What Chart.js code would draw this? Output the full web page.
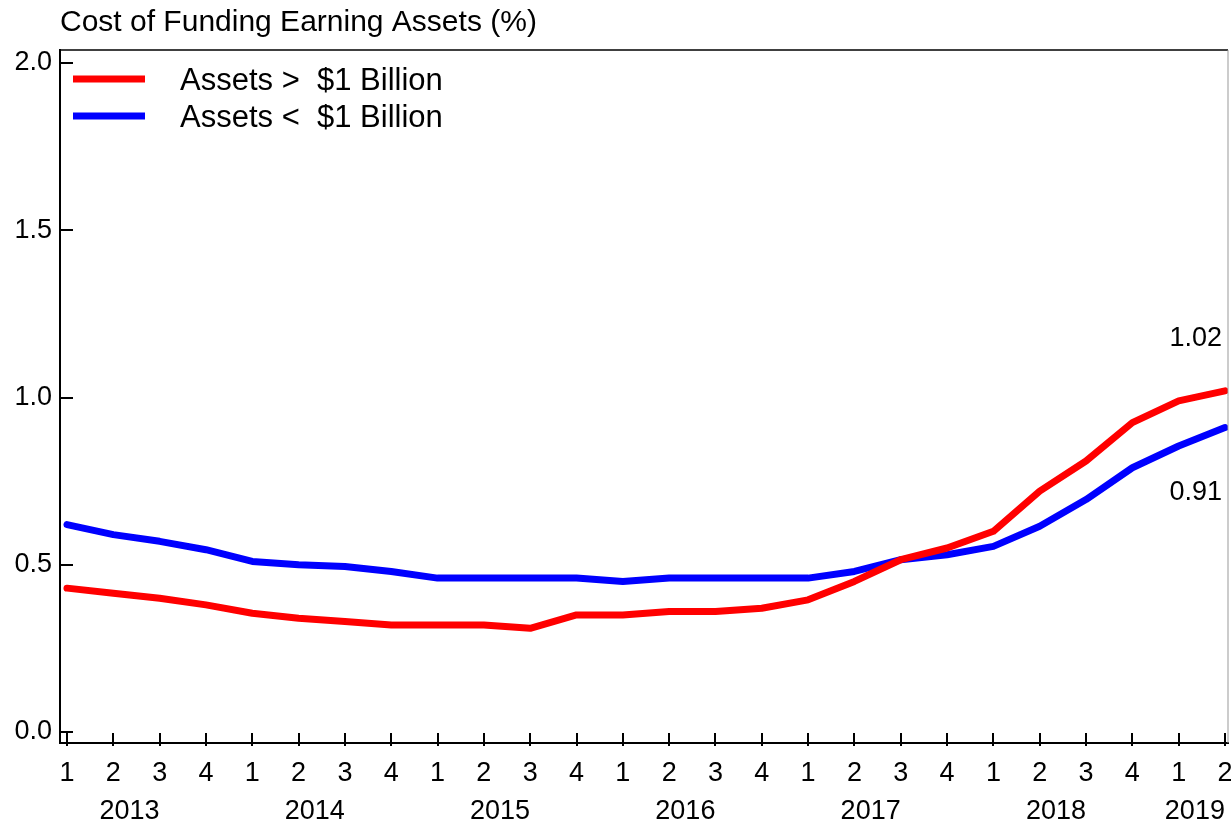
<!DOCTYPE html>
<html>
<head>
<meta charset="utf-8">
<title>Cost of Funding Earning Assets</title>
<script src="https://cdn.jsdelivr.net/npm/chart.js@4.4.1/dist/chart.umd.min.js"></script>
<style>
  html, body { margin: 0; padding: 0; background: #fff; }
  #wrap { width: 1231px; height: 828px; position: relative; }
</style>
</head>
<body>
<div id="wrap"><canvas id="chart"></canvas></div>
<script>
// valores (trimestres 2013 Q1 .. 2019 Q2)
const quarterLabels = ['1','2','3','4','1','2','3','4','1','2','3','4','1','2','3','4',
                       '1','2','3','4','1','2','3','4','1','2'];
const yearLabels = ['2013','2014','2015','2016','2017','2018','2019'];
const yearCenters = [1.35, 5.35, 9.35, 13.35, 17.35, 21.35, 24.35];
const yTicks = [0, 0.5, 1.0, 1.5, 2.0];

const bigBanks = [0.43, 0.415, 0.40, 0.38, 0.355, 0.34, 0.33, 0.32, 0.32, 0.32, 0.31, 0.35, 0.35,
                  0.36, 0.36, 0.37, 0.395, 0.45, 0.515, 0.55, 0.60, 0.72, 0.81, 0.925, 0.99, 1.02];
const smallBanks = [0.62, 0.59, 0.57, 0.545, 0.51, 0.50, 0.495, 0.48, 0.46, 0.46, 0.46, 0.46, 0.45,
                    0.46, 0.46, 0.46, 0.46, 0.48, 0.515, 0.53, 0.555, 0.615, 0.695, 0.79, 0.855, 0.91];

const FONT = "'Liberation Sans', Arial, Helvetica, sans-serif";
Chart.defaults.font.family = FONT;
Chart.defaults.color = '#000';

const pts = arr => arr.map((v, i) => ({ x: i, y: v }));

// sem folga extra para rotulos que passam da borda
const semFolga = s => { s.paddingLeft = 0; s.paddingRight = 0; };

// titulo, legenda, marcas internas, moldura e rotulos finais
const extras = {
  id: 'extras',
  afterDraw(chart) {
    const { ctx, chartArea: a, scales } = chart;
    const xs = scales.x, ys = scales.y;
    ctx.save();

    // marcas dos eixos (para dentro)
    ctx.strokeStyle = '#000';
    ctx.lineWidth = 2;
    ctx.beginPath();
    yTicks.forEach(v => {
      const y = Math.round(ys.getPixelForValue(v));
      ctx.moveTo(a.left, y); ctx.lineTo(a.left + 13, y);
    });
    quarterLabels.forEach((_, i) => {
      const x = Math.round(xs.getPixelForValue(i));
      ctx.moveTo(x, a.bottom - 10); ctx.lineTo(x, a.bottom + 3);
    });
    ctx.stroke();

    // moldura
    ctx.lineWidth = 1.5;
    ctx.beginPath();
    ctx.moveTo(a.left, a.top); ctx.lineTo(a.right, a.top);
    ctx.stroke();
    ctx.strokeStyle = '#999';
    ctx.lineWidth = 1;
    ctx.beginPath();
    ctx.moveTo(a.right, a.top); ctx.lineTo(a.right, a.bottom);
    ctx.stroke();

    // titulo
    ctx.fillStyle = '#000';
    ctx.font = '30px ' + FONT;
    ctx.textAlign = 'left';
    ctx.textBaseline = 'middle';
    ctx.fillText('Cost of Funding Earning Assets (%)', a.left, 23);

    // legenda
    ctx.font = '31px ' + FONT;
    chart.data.datasets.forEach((ds, k) => {
      const y = 79 + k * 37;
      ctx.strokeStyle = ds.borderColor;
      ctx.lineWidth = 7;
      ctx.beginPath();
      ctx.moveTo(a.left + 13, y); ctx.lineTo(a.left + 85, y);
      ctx.stroke();
      ctx.fillText(ds.label, a.left + 120, y + 2);
    });

    // rotulos dos ultimos valores
    ctx.font = '27px ' + FONT;
    ctx.textAlign = 'right';
    const last = bigBanks.length - 1;
    const xEnd = xs.getPixelForValue(last) - 3;
    ctx.fillText(bigBanks[last].toFixed(2), xEnd, ys.getPixelForValue(bigBanks[last]) - 52);
    ctx.fillText(smallBanks[last].toFixed(2), xEnd, ys.getPixelForValue(smallBanks[last]) + 65);

    ctx.restore();
  }
};

new Chart(document.getElementById('chart'), {
  type: 'line',
  data: {
    datasets: [
      { label: 'Assets >  $1 Billion', data: pts(bigBanks), borderColor: '#ff0000' },
      { label: 'Assets <  $1 Billion', data: pts(smallBanks), borderColor: '#0000ff' }
    ]
  },
  options: {
    responsive: true,
    maintainAspectRatio: false,
    animation: false,
    layout: { padding: { top: 50, right: 3, left: 0, bottom: 0 } },
    elements: {
      line: { borderWidth: 7, tension: 0, borderJoinStyle: 'round', borderCapStyle: 'round' },
      point: { radius: 0, hoverRadius: 0 }
    },
    plugins: { legend: { display: false }, tooltip: { enabled: false } },
    scales: {
      x: {
        type: 'linear', position: 'bottom', weight: 0,
        min: -0.151, max: 25.065,
        grid: { display: false, drawTicks: false },
        border: { display: true, color: '#000', width: 2 },
        afterBuildTicks: s => { s.ticks = quarterLabels.map((_, i) => ({ value: i })); },
        afterFit: s => { s.height = 50; semFolga(s); },
        ticks: {
          autoSkip: false, maxRotation: 0, padding: 14,
          font: { size: 27 },
          callback: v => quarterLabels[v]
        }
      },
      years: {
        type: 'linear', position: 'bottom', weight: 1,
        min: -0.151, max: 25.065,
        grid: { display: false, drawTicks: false },
        border: { display: false },
        afterBuildTicks: s => { s.ticks = yearCenters.map(v => ({ value: v })); },
        afterFit: s => { s.height = 35; semFolga(s); },
        ticks: {
          autoSkip: false, maxRotation: 0, padding: 2,
          font: { size: 27 },
          callback: v => yearLabels[yearCenters.indexOf(v)]
        }
      },
      y: {
        min: -0.033, max: 2.039,
        grid: { display: false, drawTicks: false },
        border: { display: true, color: '#000', width: 2 },
        afterBuildTicks: s => { s.ticks = yTicks.map(v => ({ value: v })); },
        afterFit: s => { s.width = 60; s.paddingTop = 0; s.paddingBottom = 0; },
        ticks: {
          padding: 8,
          font: { size: 27 },
          callback: v => v.toFixed(1)
        }
      }
    }
  },
  plugins: [extras]
});
</script>
</body>
</html>
